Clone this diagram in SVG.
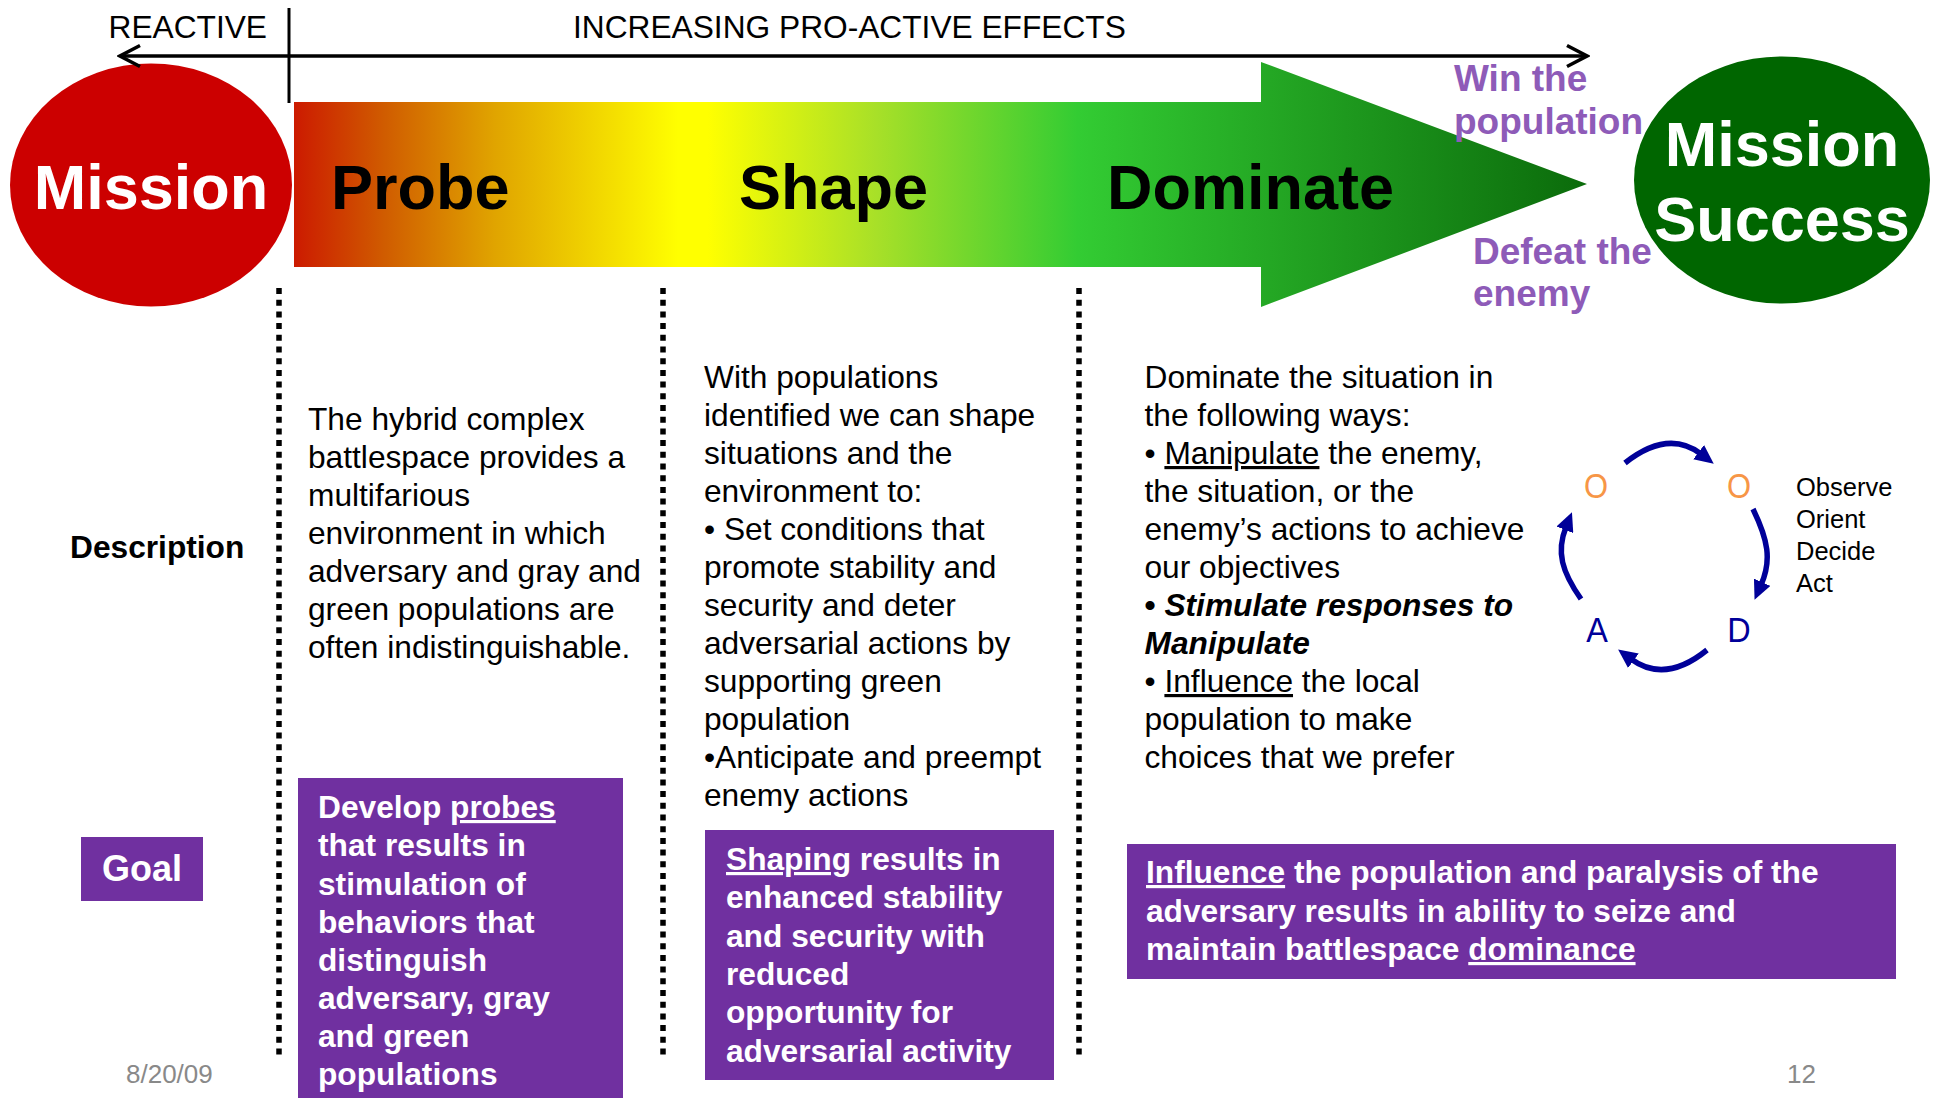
<svg xmlns="http://www.w3.org/2000/svg" width="1939" height="1098" viewBox="0 0 1939 1098">
<defs>
<linearGradient id="phaseGrad" gradientUnits="userSpaceOnUse" x1="294" y1="0" x2="1587" y2="0">
<stop offset="0" stop-color="#CC1A00"/>
<stop offset="0.07" stop-color="#D05C00"/>
<stop offset="0.155" stop-color="#E0A400"/>
<stop offset="0.297" stop-color="#FFFF00"/>
<stop offset="0.32" stop-color="#FFFF00"/>
<stop offset="0.45" stop-color="#A8E028"/>
<stop offset="0.606" stop-color="#33CC33"/>
<stop offset="1" stop-color="#0B6B0B"/>
</linearGradient>
<marker id="chev" markerUnits="userSpaceOnUse" viewBox="0 0 26 26" markerWidth="26" markerHeight="26" refX="23" refY="13" orient="auto-start-reverse">
<path d="M3,2.5 L23,13 L3,23.5" fill="none" stroke="#000" stroke-width="3.5"/>
</marker>
<marker id="tri" markerUnits="userSpaceOnUse" viewBox="0 0 19 18" markerWidth="19" markerHeight="18" refX="3" refY="9" orient="auto">
<path d="M0,0 L19,9 L0,18 Z" fill="#000099"/>
</marker>
</defs>
<style>
.t{font-family:"Liberation Sans",Arial,sans-serif;font-size:31.7px;fill:#000}
.b{font-weight:bold}
.w{fill:#fff}
.big{font-size:63px;font-weight:bold}
.pur{fill:#8E5BB8;font-weight:bold;font-size:37px}
.box{fill:#7030A0}
.u{text-decoration:underline}
.dots{stroke:#000;stroke-width:5.5;stroke-dasharray:6 5.7;fill:none}
.ooda{stroke:#000099;stroke-width:5.5;fill:none;marker-end:url(#tri)}
.foot{fill:#898989;font-size:26px}
.lt{font-family:"Liberation Sans",Arial,sans-serif;font-size:36px;text-anchor:middle}
</style>
<rect width="1939" height="1098" fill="#fff"/>

<g id="header">
<text class="t" x="108.5" y="38">REACTIVE</text>
<text class="t" x="573" y="38">INCREASING PRO-ACTIVE EFFECTS</text>
</g>

<g id="phase-arrow">
<polygon points="294,102 1261,102 1261,62 1587,184 1261,307 1261,267 294,267" fill="url(#phaseGrad)"/>
<text class="t big" x="331" y="209">Probe</text>
<text class="t big" x="739" y="209">Shape</text>
<text class="t big" x="1107" y="209">Dominate</text>
</g>

<g id="mission">
<ellipse cx="151" cy="185" rx="141" ry="121.5" fill="#CC0000"/>
<text class="t big w" x="151" y="209" text-anchor="middle">Mission</text>
</g>

<g id="mission-success">
<ellipse cx="1782" cy="180" rx="148" ry="123.5" fill="#006600"/>
<text class="t big w" x="1782" y="166" text-anchor="middle">Mission</text>
<text class="t big w" x="1782" y="241" text-anchor="middle">Success</text>
</g>

<g id="win-population">
<text class="t pur" x="1454" y="91">Win the</text>
<text class="t pur" x="1454" y="134">population</text>
</g>
<g id="defeat-enemy">
<text class="t pur" x="1473" y="264">Defeat the</text>
<text class="t pur" x="1473" y="306">enemy</text>
</g>

<g id="dividers">
<path class="dots" d="M279,288 V1060 M663,288 V1060 M1079,288 V1060"/>
</g>

<g id="description-label">
<text class="t b" x="70" y="558">Description</text>
</g>

<g id="probe-description">
<text class="t">
<tspan x="308" y="430">The hybrid complex</tspan>
<tspan x="308" y="468">battlespace provides a</tspan>
<tspan x="308" y="506">multifarious</tspan>
<tspan x="308" y="544">environment in which</tspan>
<tspan x="308" y="582">adversary and gray and</tspan>
<tspan x="308" y="620">green populations are</tspan>
<tspan x="308" y="658">often indistinguishable.</tspan>
</text>
</g>

<g id="shape-description">
<text class="t">
<tspan x="704" y="388">With populations</tspan>
<tspan x="704" y="426">identified we can shape</tspan>
<tspan x="704" y="464">situations and the</tspan>
<tspan x="704" y="502">environment to:</tspan>
<tspan x="704" y="540">• Set conditions that</tspan>
<tspan x="704" y="578">promote stability and</tspan>
<tspan x="704" y="616">security and deter</tspan>
<tspan x="704" y="654">adversarial actions by</tspan>
<tspan x="704" y="692">supporting green</tspan>
<tspan x="704" y="730">population</tspan>
<tspan x="704" y="768">•Anticipate and preempt</tspan>
<tspan x="704" y="806">enemy actions</tspan>
</text>
</g>

<g id="dominate-description">
<text class="t" x="1144.5" y="388">Dominate the situation in</text>
<text class="t" x="1144.5" y="426">the following ways:</text>
<text class="t" x="1144.5" y="464">• <tspan class="u">Manipulate</tspan> the enemy,</text>
<text class="t" x="1144.5" y="502">the situation, or the</text>
<text class="t" x="1144.5" y="540">enemy’s actions to achieve</text>
<text class="t" x="1144.5" y="578">our objectives</text>
<text class="t b" x="1144.5" y="616">• <tspan font-style="italic">Stimulate responses to</tspan></text>
<text class="t b" x="1144.5" y="654" font-style="italic">Manipulate</text>
<text class="t" x="1144.5" y="692">• <tspan class="u">Influence</tspan> the local</text>
<text class="t" x="1144.5" y="730">population to make</text>
<text class="t" x="1144.5" y="768">choices that we prefer</text>
</g>

<g id="ooda-letters">
<text class="lt" transform="translate(1596,498) scale(0.86,1)" fill="#F79646">O</text>
<text class="lt" transform="translate(1739,498) scale(0.86,1)" fill="#F79646">O</text>
<text class="lt" transform="translate(1597,642) scale(0.9,1)" fill="#000099">A</text>
<text class="lt" transform="translate(1739,642) scale(0.9,1)" fill="#000099">D</text>
</g>

<g id="ooda-legend">
<text class="t" style="font-size:25.5px">
<tspan x="1796" y="496">Observe</tspan>
<tspan x="1796" y="528">Orient</tspan>
<tspan x="1796" y="560">Decide</tspan>
<tspan x="1796" y="592">Act</tspan>
</text>
</g>

<g id="connectors">
<path d="M120,56 L1587,56" stroke="#000" stroke-width="3.5" fill="none" marker-start="url(#chev)" marker-end="url(#chev)"/>
<path d="M289,8 L289,103" stroke="#000" stroke-width="3" fill="none"/>
<path class="ooda" d="M1625,463 Q1668,429 1701,454"/>
<path class="ooda" d="M1753,509 C1768,540 1772,560 1761,585"/>
<path class="ooda" d="M1707,650 Q1665,684 1631,659"/>
<path class="ooda" d="M1581,599 C1562,572 1556,552 1566,527"/>
</g>

<g id="goal-label">
<rect class="box" x="81" y="837" width="122" height="64"/>
<text class="t b w" x="142" y="881" text-anchor="middle" style="font-size:36px">Goal</text>
</g>

<g id="probe-goal">
<rect class="box" x="298" y="778" width="325" height="320"/>
<text class="t b w">
<tspan x="318" y="818">Develop <tspan class="u">probes</tspan></tspan>
<tspan x="318" y="856">that results in</tspan>
<tspan x="318" y="895">stimulation of</tspan>
<tspan x="318" y="933">behaviors that</tspan>
<tspan x="318" y="971">distinguish</tspan>
<tspan x="318" y="1009">adversary, gray</tspan>
<tspan x="318" y="1047">and green</tspan>
<tspan x="318" y="1085">populations</tspan>
</text>
</g>

<g id="shape-goal">
<rect class="box" x="705" y="830" width="349" height="250"/>
<text class="t b w" x="726" y="870"><tspan class="u">Shaping</tspan> results in</text>
<text class="t b w" x="726" y="908">enhanced stability</text>
<text class="t b w" x="726" y="947">and security with</text>
<text class="t b w" x="726" y="985">reduced</text>
<text class="t b w" x="726" y="1023">opportunity for</text>
<text class="t b w" x="726" y="1062">adversarial activity</text>
</g>

<g id="dominate-goal">
<rect class="box" x="1127" y="844" width="769" height="135"/>
<text class="t b w" x="1146" y="883"><tspan class="u">Influence</tspan> the population and paralysis of the</text>
<text class="t b w" x="1146" y="922">adversary results in ability to seize and</text>
<text class="t b w" x="1146" y="960">maintain battlespace <tspan class="u">dominance</tspan></text>
</g>

<g id="footer">
<text class="t foot" x="126" y="1083">8/20/09</text>
<text class="t foot" x="1787" y="1083">12</text>
</g>
</svg>
